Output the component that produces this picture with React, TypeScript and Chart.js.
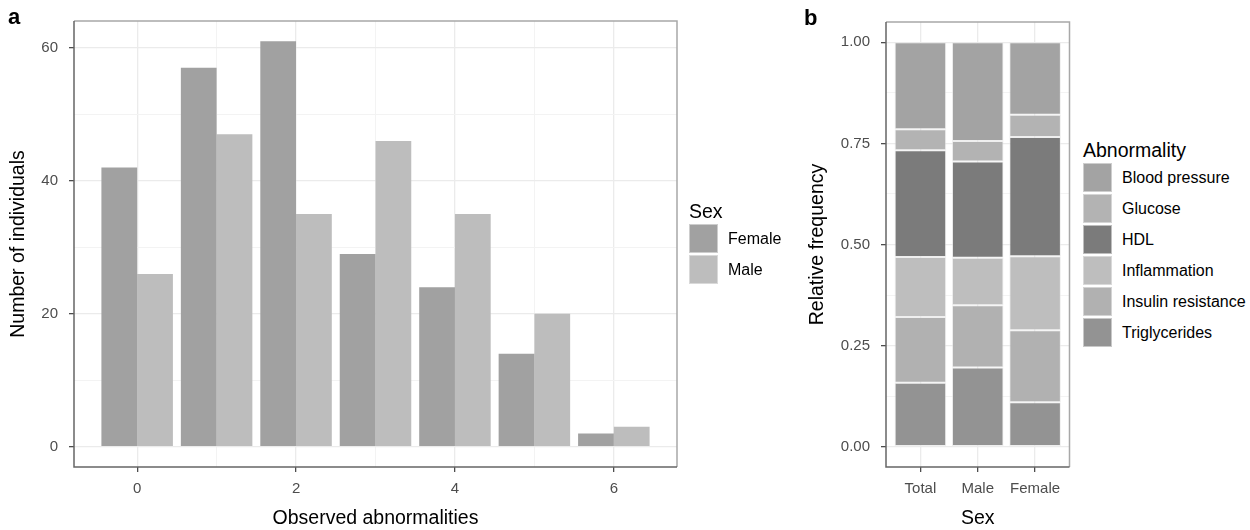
import React, { useEffect, useRef } from 'react';
import { Chart, registerables } from 'chart.js';

Chart.register(...registerables);

const FONT = "'Liberation Sans', Arial, Helvetica, sans-serif";

// ---------- Panel a data ----------
const abnormalityCounts = [0, 1, 2, 3, 4, 5, 6];
const femaleIndividuals = [42, 57, 61, 29, 24, 14, 2];
const maleIndividuals = [26, 47, 35, 46, 35, 20, 3];
const xMajorTicksA = [0, 2, 4, 6];
const yMajorTicksA = [0, 20, 40, 60];
const sexLabels = ['Female', 'Male'];
const sexColors = ['#a1a1a1', '#bdbdbd'];

// ---------- Panel b data ----------
const sexGroups = ['Total', 'Male', 'Female'];
const abnormalityNames = ['Blood pressure', 'Glucose', 'HDL', 'Inflammation', 'Insulin resistance', 'Triglycerides'];
const abnormalityColors = ['#a3a3a3', '#b3b3b3', '#7b7b7b', '#bebebe', '#b1b1b1', '#939393'];
const bloodPressure = [0.215, 0.244, 0.179];
const glucose = [0.052, 0.051, 0.055];
const hdl = [0.264, 0.238, 0.295];
const inflammation = [0.148, 0.117, 0.183];
const insulinResistance = [0.163, 0.154, 0.178];
const triglycerides = [0.158, 0.196, 0.11];
const yMajorTicksB = [0, 0.25, 0.5, 0.75, 1];

const withMinors = (majors: number[]) => {
  const out: number[] = [];
  majors.forEach((m, i) => {
    out.push(m);
    if (i < majors.length - 1) out.push((m + majors[i + 1]) / 2);
  });
  return out;
};

const framePlugin = {
  id: 'frame',
  afterDraw(chart: any) {
    const { ctx, chartArea: a } = chart;
    ctx.save();
    ctx.lineWidth = 1.5;
    ctx.strokeStyle = '#a8a8a8';
    ctx.beginPath();
    ctx.moveTo(a.left, a.top);
    ctx.lineTo(a.right, a.top);
    ctx.lineTo(a.right, a.bottom);
    ctx.stroke();
    ctx.strokeStyle = '#666666';
    ctx.beginPath();
    ctx.moveTo(a.left, a.top);
    ctx.lineTo(a.left, a.bottom);
    ctx.lineTo(a.right, a.bottom);
    ctx.stroke();
    ctx.restore();
  },
};

const gridOpts = (majors: number[]) => ({
  offset: false,
  drawOnChartArea: true,
  drawTicks: true,
  tickLength: 5,
  color: (c: any) => (majors.includes(c.tick?.value) ? '#ebebeb' : '#f3f3f3'),
  lineWidth: (c: any) => (majors.includes(c.tick?.value) ? 1.3 : 1),
  tickColor: (c: any) => (majors.includes(c.tick?.value) ? '#4d4d4d' : 'rgba(0,0,0,0)'),
  tickWidth: 1.3,
});

const tickFont = { family: FONT, size: 15 };
const titleFont = { family: FONT, size: 19.5 };

function PanelA() {
  const ref = useRef<HTMLCanvasElement>(null);
  useEffect(() => {
    if (!ref.current) return;
    const xAll = withMinors(xMajorTicksA);
    const yAll = withMinors(yMajorTicksA);
    const chart = new Chart(ref.current, {
      type: 'bar',
      data: {
        datasets: [
          {
            label: sexLabels[0],
            data: abnormalityCounts.map((x, i) => ({ x, y: femaleIndividuals[i] })),
            backgroundColor: sexColors[0],
            borderWidth: 0,
            categoryPercentage: 0.9,
            barPercentage: 1,
          },
          {
            label: sexLabels[1],
            data: abnormalityCounts.map((x, i) => ({ x, y: maleIndividuals[i] })),
            backgroundColor: sexColors[1],
            borderWidth: 0,
            categoryPercentage: 0.9,
            barPercentage: 1,
          },
        ],
      } as any,
      options: {
        responsive: false,
        maintainAspectRatio: false,
        animation: false,
        devicePixelRatio: 1,
        layout: { padding: { top: 21, right: 13, left: 0, bottom: 0 } },
        plugins: { legend: { display: false }, tooltip: { enabled: false } },
        scales: {
          x: {
            type: 'linear',
            min: -0.795,
            max: 6.795,
            offset: false,
            afterBuildTicks: (s: any) => {
              s.ticks = xAll.map((v) => ({ value: v }));
            },
            afterFit: (s: any) => {
              s.height = 63;
            },
            ticks: {
              autoSkip: false,
              maxRotation: 0,
              padding: 8,
              color: '#4d4d4d',
              font: tickFont,
              callback: (v: any) => (xMajorTicksA.includes(v) ? String(v) : ''),
            },
            grid: gridOpts(xMajorTicksA),
            border: { display: false },
            title: {
              display: true,
              text: 'Observed abnormalities',
              color: '#000',
              font: titleFont,
              padding: { top: 0, bottom: 0 },
            },
          },
          y: {
            type: 'linear',
            min: -3.05,
            max: 64.05,
            afterBuildTicks: (s: any) => {
              s.ticks = yAll.map((v) => ({ value: v }));
            },
            afterFit: (s: any) => {
              s.width = 74;
            },
            ticks: {
              autoSkip: false,
              padding: 11,
              color: '#4d4d4d',
              font: tickFont,
              callback: (v: any) => (yMajorTicksA.includes(v) ? String(v) : ''),
            },
            grid: gridOpts(yMajorTicksA),
            border: { display: false },
            title: {
              display: true,
              text: 'Number of individuals',
              color: '#000',
              font: titleFont,
              padding: { top: 7, bottom: 0 },
            },
          },
        },
      } as any,
      plugins: [framePlugin],
    });
    return () => chart.destroy();
  }, []);
  return <canvas ref={ref} width={690} height={530} style={{ position: 'absolute', left: 0, top: 0, width: 690, height: 530 }} />;
}

function PanelB() {
  const ref = useRef<HTMLCanvasElement>(null);
  useEffect(() => {
    if (!ref.current) return;
    const yAll = withMinors(yMajorTicksB);
    const seriesValues = [bloodPressure, glucose, hdl, inflammation, insulinResistance, triglycerides];
    // stack from bottom: Triglycerides first, Blood pressure on top
    const order = [5, 4, 3, 2, 1, 0];
    const chart = new Chart(ref.current, {
      type: 'bar',
      data: {
        datasets: order.map((k) => ({
          label: abnormalityNames[k],
          data: sexGroups.map((_, i) => ({ x: i, y: seriesValues[k][i] })),
          backgroundColor: abnormalityColors[k],
          borderColor: 'rgba(228,228,228,0.6)',
          borderWidth: 1,
          borderSkipped: false,
          categoryPercentage: 1,
          barPercentage: 0.9,
        })),
      } as any,
      options: {
        responsive: false,
        maintainAspectRatio: false,
        animation: false,
        devicePixelRatio: 1,
        layout: { padding: { top: 22, right: 10.5, left: 0, bottom: 0 } },
        plugins: { legend: { display: false }, tooltip: { enabled: false } },
        scales: {
          x: {
            type: 'linear',
            stacked: true,
            min: -0.6,
            max: 2.6,
            offset: false,
            afterBuildTicks: (s: any) => {
              s.ticks = sexGroups.map((_, i) => ({ value: i }));
            },
            afterFit: (s: any) => {
              s.height = 63;
            },
            ticks: {
              autoSkip: false,
              maxRotation: 0,
              padding: 8,
              color: '#4d4d4d',
              font: tickFont,
              callback: (v: any) => sexGroups[v] ?? '',
            },
            grid: gridOpts(sexGroups.map((_, i) => i)),
            border: { display: false },
            title: {
              display: true,
              text: 'Sex',
              color: '#000',
              font: titleFont,
              padding: { top: 0, bottom: 0 },
            },
          },
          y: {
            type: 'linear',
            stacked: true,
            min: -0.05,
            max: 1.05,
            afterBuildTicks: (s: any) => {
              s.ticks = yAll.map((v) => ({ value: v }));
            },
            afterFit: (s: any) => {
              s.width = 126;
            },
            ticks: {
              autoSkip: false,
              padding: 11,
              color: '#4d4d4d',
              font: tickFont,
              callback: (v: any) => (yMajorTicksB.includes(v) ? Number(v).toFixed(2) : ''),
            },
            grid: gridOpts(yMajorTicksB),
            border: { display: false },
            title: {
              display: true,
              text: 'Relative frequency',
              color: '#000',
              font: titleFont,
              padding: { top: 46, bottom: 0 },
            },
          },
        },
      } as any,
      plugins: [framePlugin],
    });
    return () => chart.destroy();
  }, []);
  return <canvas ref={ref} width={320} height={530} style={{ position: 'absolute', left: 760, top: 0, width: 320, height: 530 }} />;
}

function Legend(props: { left: number; top: number; title: string; labels: string[]; colors: string[] }) {
  const { left, top, title, labels, colors } = props;
  return (
    <div style={{ position: 'absolute', left, top, fontFamily: FONT, color: '#000' }}>
      <div style={{ fontSize: 19.5, lineHeight: '24px', height: 24 }}>{title}</div>
      {labels.map((l, i) => (
        <div key={l} style={{ display: 'flex', alignItems: 'center', height: 31 }}>
          <div style={{ width: 29, height: 29, background: colors[i], boxSizing: 'border-box', border: '1px solid rgba(235,235,235,0.6)' }} />
          <div style={{ marginLeft: 10, fontSize: 16, whiteSpace: 'nowrap' }}>{l}</div>
        </div>
      ))}
    </div>
  );
}

export default function App() {
  return (
    <div style={{ position: 'absolute', left: 0, top: 0, width: 1250, height: 530, background: '#fff', overflow: 'hidden' }}>
      <PanelA />
      <PanelB />
      <div style={{ position: 'absolute', left: 8, top: 6, fontFamily: FONT, fontWeight: 'bold', fontSize: 22, lineHeight: '22px' }}>a</div>
      <div style={{ position: 'absolute', left: 804, top: 7, fontFamily: FONT, fontWeight: 'bold', fontSize: 22, lineHeight: '22px' }}>b</div>
      <Legend left={689} top={199} title="Sex" labels={sexLabels} colors={sexColors} />
      <Legend left={1083} top={138} title="Abnormality" labels={abnormalityNames} colors={abnormalityColors} />
    </div>
  );
}
